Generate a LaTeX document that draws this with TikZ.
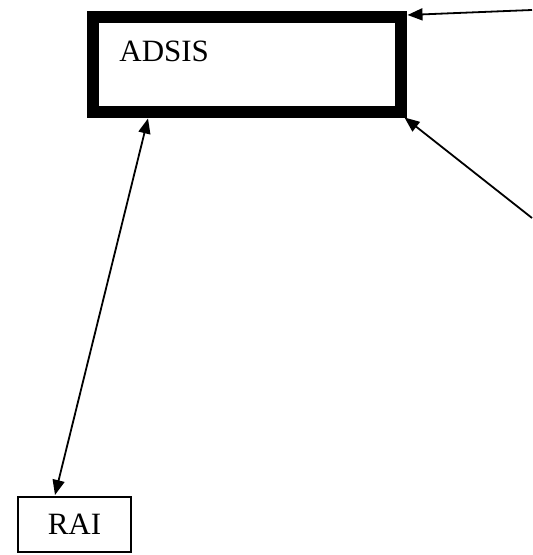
\documentclass[tikz,border=0pt]{standalone}
\usepackage{fontspec}
\setmainfont{Liberation Serif}
\usetikzlibrary{arrows.meta}

\begin{document}
\begin{tikzpicture}[x=0.5pt,y=-0.5pt,
    every node/.style={font=\fontsize{15.5pt}{18pt}\selectfont,inner sep=0},
    thickbox/.style={draw,line width=6pt,minimum width=153.75pt,minimum height=47.75pt},
    thinbox/.style={draw,line width=1pt,minimum width=56.5pt,minimum height=27.5pt},
    tip/.style={Triangle[length=7.5pt,width=6pt]},
    link/.style={line width=0.9pt,-{Triangle[length=7.5pt,width=6pt]}},
    twoway/.style={line width=0.9pt,{Triangle[length=7.5pt,width=6pt]}-{Triangle[length=7.5pt,width=6pt]}}]
        \useasboundingbox (0,0) rectangle (532,555);
        \node[thickbox] (adsis) at (246.75,64.75) {};
        \node[anchor=base west] (adsistext) at (119,62) {ADSIS};
        \node[thinbox] (rai) at (74.5,524.5) {\raisebox{-1pt}{RAI}};
        \coordinate (top) at (532,10);
        \coordinate (side) at (532,218);
        % links into ADSIS
        \draw[link] (top) -- ([shift={(1,4)}]adsis.north east);
        \draw[link] (side) -- ([shift={(-2,-1)}]adsis.south east);
        \draw[twoway] ([shift={(61,0)}]adsis.south west) -- ([shift={(-19.5,-1)}]rai.north);
      \end{tikzpicture}
\end{document}
